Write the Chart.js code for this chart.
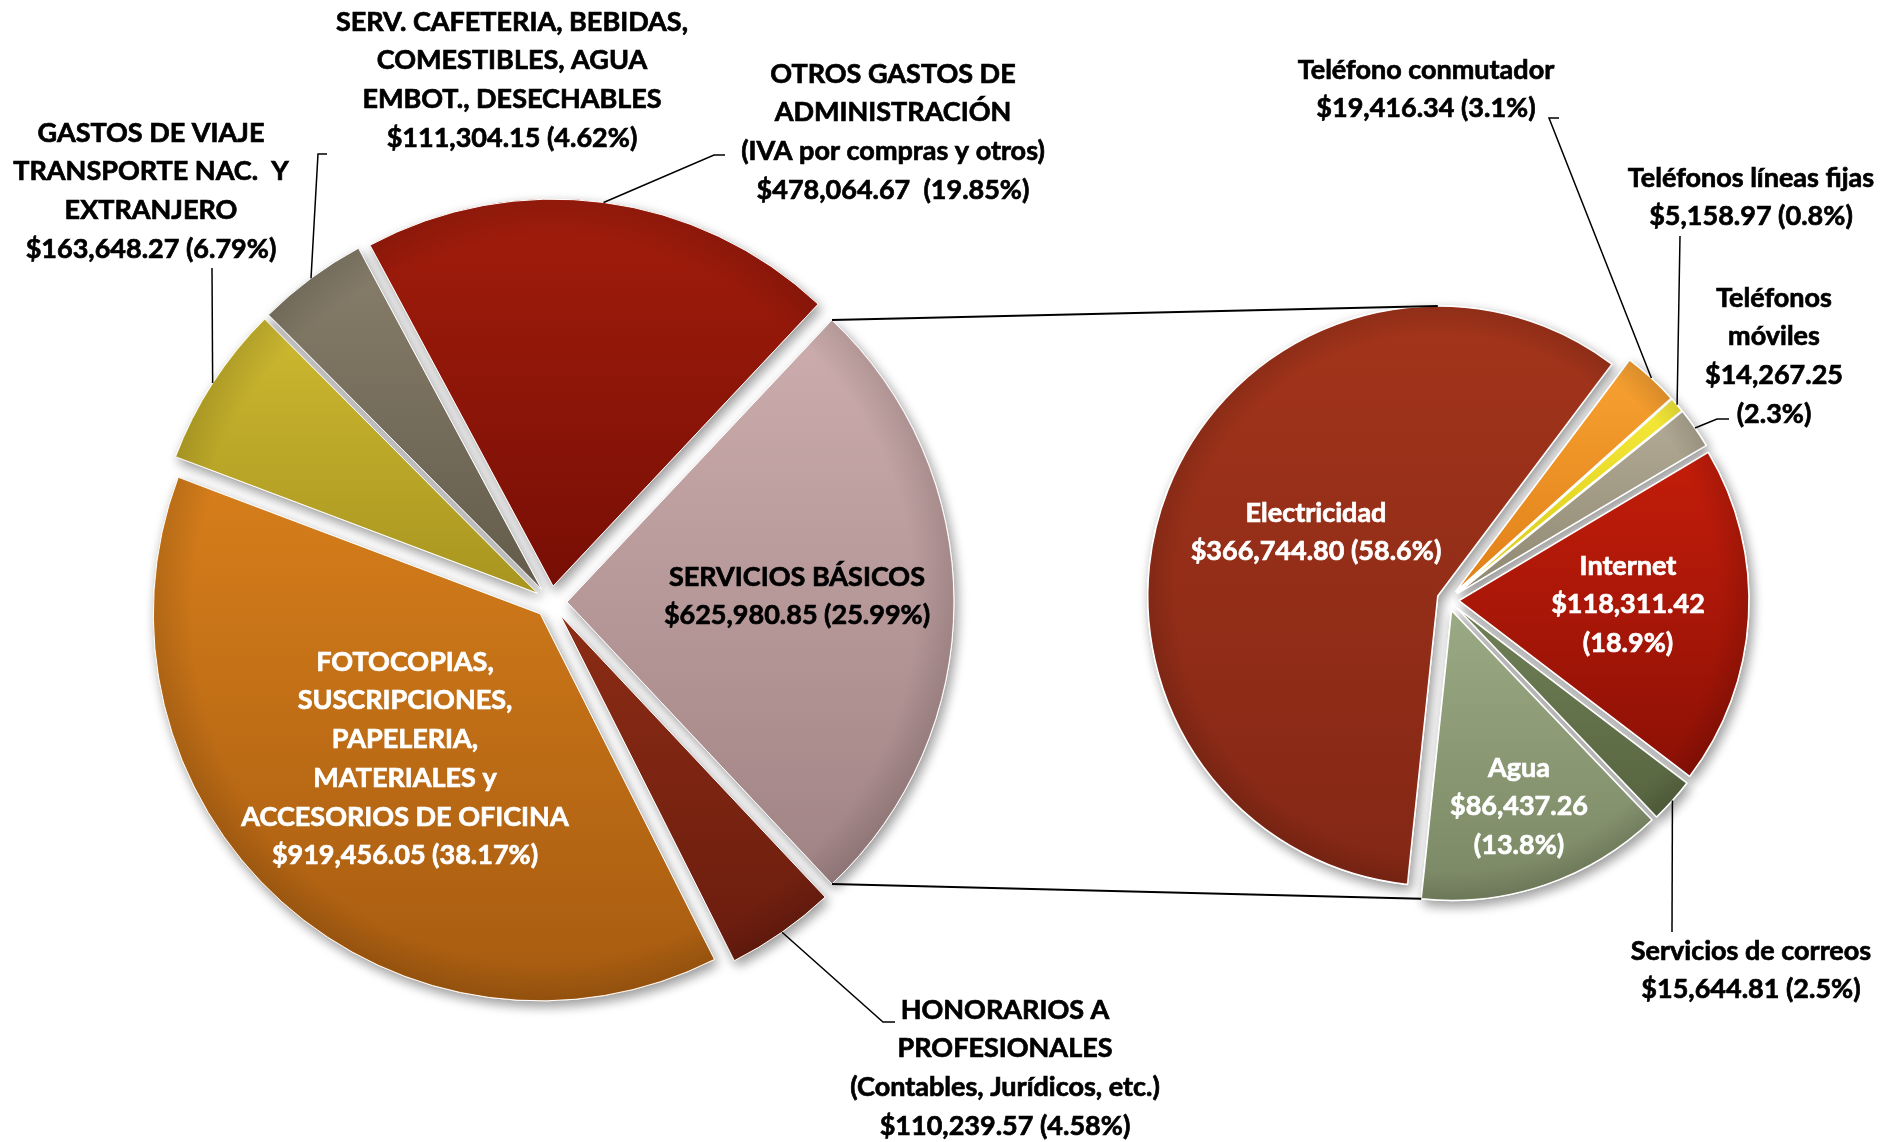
<!DOCTYPE html>
<html>
<head>
<meta charset="utf-8">
<script src="https://cdn.jsdelivr.net/npm/chart.js@4.4.1/dist/chart.umd.min.js"></script>
<style>
  body { margin: 0; background: #fff; }
  #wrap { position: relative; width: 1897px; height: 1142px; }
  #wrap canvas { position: absolute; left: 0; top: 0; }
</style>
</head>
<body>
<div id="wrap">
  <canvas id="gastos" width="1897" height="1142"></canvas>
  <canvas id="servicios" width="1897" height="1142"></canvas>
</div>
<script>
// Gastos de administracion (main pie)
var gastosLabels = [
    ['SERVICIOS BÁSICOS'],
    ['HONORARIOS A', 'PROFESIONALES', '(Contables, Jurídicos, etc.)'],
    ['FOTOCOPIAS,', 'SUSCRIPCIONES,', 'PAPELERIA,', 'MATERIALES y', 'ACCESORIOS DE OFICINA'],
    ['GASTOS DE VIAJE', 'TRANSPORTE NAC.  Y', 'EXTRANJERO'],
    ['SERV. CAFETERIA, BEBIDAS,', 'COMESTIBLES, AGUA', 'EMBOT., DESECHABLES'],
    ['OTROS GASTOS DE', 'ADMINISTRACIÓN', '(IVA por compras y otros)']
];
var gastosValues = [625980.85, 110239.57, 919456.05, 163648.27, 111304.15, 478064.67];

// Desglose de servicios basicos (second pie)
var serviciosLabels = [
    ['Electricidad'],
    ['Teléfono conmutador'],
    ['Teléfonos líneas fijas'],
    ['Teléfonos', 'móviles'],
    ['Internet'],
    ['Servicios de correos'],
    ['Agua']
];
var serviciosValues = [366744.80, 19416.34, 5158.97, 14267.25, 118311.42, 15644.81, 86437.26];

// colours: [top, bottom] of each slice gradient
var gastosColors = [
    ['#CDADAD', '#A08384'], ['#8C2C15', '#6A1C0E'], ['#D67E1B', '#A65B10'],
    ['#CEB930', '#A8951F'], ['#877E6B', '#645C4B'], ['#A21D0C', '#780E05']
];
var serviciosColors = [
    ['#A3341B', '#832715'], ['#F8A232', '#E08018'], ['#F6EA3A', '#D8C816'],
    ['#B3AB96', '#8E8772'], ['#C41D0A', '#8C1005'], ['#708057', '#56643F'],
    ['#9AAA84', '#7A8764']
];

// label placement (page px), first line centre
var gastosLabelPos = [
    {x: 797, y: 577, color: '#000'},
    {x: 1005, y: 1010, color: '#000', leader: [[883, 1022], [895, 1022]]},
    {x: 405, y: 662, color: '#fff'},
    {x: 151, y: 133, color: '#000', leader: [[212, 268]]},
    {x: 512, y: 22, color: '#000', leader: [[318, 154], [327, 154]]},
    {x: 893, y: 74, color: '#000', sep: '  ', leader: [[714, 155], [725, 155]]}
];
var serviciosLabelPos = [
    {x: 1316, y: 513, color: '#fff'},
    {x: 1426, y: 70, color: '#000', leader: [[1549, 118], [1559, 118]]},
    {x: 1751, y: 178, color: '#000', leader: [[1680, 236]]},
    {x: 1774, y: 298, color: '#000', split: true, leader: [[1717, 419], [1729, 419]]},
    {x: 1628, y: 566, color: '#fff', split: true},
    {x: 1751, y: 951, color: '#000', leader: [[1672, 932]]},
    {x: 1519, y: 768, color: '#fff', split: true}
];

var FONT = 'bold 27px Lato, "Open Sans", sans-serif';
var LINE_H = 38.7;

function money(v) {
    return '$' + v.toLocaleString('en-US', {minimumFractionDigits: 2, maximumFractionDigits: 2});
}

function sum(arr) {
    return arr.reduce(function(a, b) { return a + b; }, 0);
}

function arcBox(arc) {
    var r = arc.outerRadius, s = arc.startAngle, e = arc.endAngle;
    var ys = [arc.y, arc.y + r * Math.sin(s), arc.y + r * Math.sin(e)];
    for (var k = Math.ceil(s / (Math.PI / 2)); k * Math.PI / 2 <= e; k++) {
        ys.push(arc.y + r * Math.sin(k * Math.PI / 2));
    }
    return {top: Math.min.apply(null, ys), bottom: Math.max.apply(null, ys)};
}

// draws every slice pulled out from the centre, with gradient and shadow
var explodePlugin = {
    id: 'explode',
    beforeDatasetDraw: function(chart, args, opts) {
        var ctx = chart.ctx;
        var arcs = args.meta.data;
        for (var pass = 0; pass < 2; pass++) {
            arcs.forEach(function(arc, i) {
                var mid = (arc.startAngle + arc.endAngle) / 2;
                var d = opts.dist[i];
                ctx.save();
                ctx.translate(Math.cos(mid) * d, Math.sin(mid) * d);
                var box = arcBox(arc);
                var grad = ctx.createLinearGradient(0, box.top, 0, box.bottom);
                grad.addColorStop(0, opts.colors[i][0]);
                grad.addColorStop(1, opts.colors[i][1]);
                var saved = arc.options;
                arc.options = Object.assign({}, saved, {backgroundColor: grad});
                if (pass === 0) {
                    ctx.shadowColor = 'rgba(0,0,0,0.4)';
                    ctx.shadowBlur = 12;
                    ctx.shadowOffsetX = 3;
                    ctx.shadowOffsetY = 5;
                }
                arc.draw(ctx);
                arc.options = saved;
                if (pass === 1) {
                    // slight darker rim like a bevel
                    var rim = ctx.createRadialGradient(arc.x, arc.y, arc.outerRadius * 0.9, arc.x, arc.y, arc.outerRadius);
                    rim.addColorStop(0, 'rgba(0,0,0,0)');
                    rim.addColorStop(1, 'rgba(0,0,0,0.12)');
                    ctx.beginPath();
                    ctx.moveTo(arc.x, arc.y);
                    ctx.arc(arc.x, arc.y, arc.outerRadius - 1, arc.startAngle, arc.endAngle);
                    ctx.closePath();
                    ctx.fillStyle = rim;
                    ctx.fill();
                }
                ctx.restore();
            });
        }
        return false;
    }
};

// text labels with leader lines
var labelPlugin = {
    id: 'sliceLabels',
    afterDraw: function(chart, args, opts) {
        var ctx = chart.ctx;
        var arcs = chart.getDatasetMeta(0).data;
        var values = chart.data.datasets[0].data;
        var total = sum(values);
        ctx.save();
        arcs.forEach(function(arc, i) {
            var pos = opts.pos[i];
            if (pos.leader) {
                var mid = (arc.startAngle + arc.endAngle) / 2;
                var rr = arc.outerRadius + opts.dist[i];
                ctx.beginPath();
                ctx.moveTo(arc.x + Math.cos(mid) * rr, arc.y + Math.sin(mid) * rr);
                pos.leader.forEach(function(p) { ctx.lineTo(p[0], p[1]); });
                ctx.strokeStyle = '#000';
                ctx.lineWidth = 1.5;
                ctx.stroke();
            }
            var pct = '(' + (values[i] / total * 100).toFixed(opts.decimals) + '%)';
            var lines = chart.data.labels[i].slice();
            if (pos.split) {
                lines.push(money(values[i]), pct);
            } else {
                lines.push(money(values[i]) + (pos.sep || ' ') + pct);
            }
            ctx.font = FONT;
            ctx.fillStyle = pos.color;
            ctx.strokeStyle = pos.color;
            ctx.lineWidth = 0.7;
            ctx.textAlign = 'center';
            ctx.textBaseline = 'middle';
            lines.forEach(function(t, k) {
                ctx.fillText(t, pos.x, pos.y + k * LINE_H);
                ctx.strokeText(t, pos.x, pos.y + k * LINE_H);
            });
        });
        ctx.restore();
    }
};

// lines joining the split slice with the second pie
var connectorPlugin = {
    id: 'connector',
    afterDraw: function(chart, args, opts) {
        var main = Chart.getChart('gastos');
        if (!main) return;
        var src = main.getDatasetMeta(0).data[0];
        var arcs = chart.getDatasetMeta(0).data;
        var d0 = opts.mainDist, top = arcs[0], bot = arcs[arcs.length - 1];
        function shift(arc, d) {
            var mid = (arc.startAngle + arc.endAngle) / 2;
            return [arc.x + Math.cos(mid) * d, arc.y + Math.sin(mid) * d];
        }
        var c0 = shift(src, d0);
        var c1 = shift(top, opts.dist[0]);
        var c2 = shift(bot, opts.dist[arcs.length - 1]);
        var ctx = chart.ctx;
        ctx.save();
        ctx.strokeStyle = '#000';
        ctx.lineWidth = 2;
        ctx.beginPath();
        ctx.moveTo(c0[0] + Math.cos(src.startAngle) * src.outerRadius, c0[1] + Math.sin(src.startAngle) * src.outerRadius);
        ctx.lineTo(c1[0], c1[1] - top.outerRadius);
        ctx.moveTo(c0[0] + Math.cos(src.endAngle) * src.outerRadius, c0[1] + Math.sin(src.endAngle) * src.outerRadius);
        ctx.lineTo(c2[0] + Math.cos(bot.endAngle) * bot.outerRadius, c2[1] + Math.sin(bot.endAngle) * bot.outerRadius);
        ctx.stroke();
        ctx.restore();
    }
};

var gastosDist = [16, 16, 16, 16, 16, 16];
var serviciosDist = [11, 11, 11, 11, 11, 11, 11];

new Chart(document.getElementById('gastos'), {
    type: 'pie',
    data: {
        labels: gastosLabels,
        datasets: [{
            data: gastosValues,
            backgroundColor: gastosColors.map(function(c) { return c[0]; }),
            borderColor: '#fff',
            borderWidth: 1
        }]
    },
    options: {
        responsive: false,
        animation: false,
        events: [],
        radius: 387,
        rotation: 90 - gastosValues[0] / sum(gastosValues) * 180,
        layout: { padding: { left: 0, right: 795, top: 62, bottom: 0 } },
        plugins: {
            legend: { display: false },
            tooltip: { enabled: false },
            explode: { dist: gastosDist, colors: gastosColors },
            sliceLabels: { pos: gastosLabelPos, dist: gastosDist, decimals: 2 }
        }
    },
    plugins: [explodePlugin, labelPlugin]
});

new Chart(document.getElementById('servicios'), {
    type: 'pie',
    data: {
        labels: serviciosLabels,
        datasets: [{
            data: serviciosValues,
            backgroundColor: serviciosColors.map(function(c) { return c[0]; }),
            borderColor: '#fff',
            borderWidth: 1.5
        }]
    },
    options: {
        responsive: false,
        animation: false,
        events: [],
        radius: 290,
        rotation: 186,
        layout: { padding: { left: 999, right: 0, top: 58, bottom: 0 } },
        plugins: {
            legend: { display: false },
            tooltip: { enabled: false },
            explode: { dist: serviciosDist, colors: serviciosColors },
            sliceLabels: { pos: serviciosLabelPos, dist: serviciosDist, decimals: 1 },
            connector: { dist: serviciosDist, mainDist: gastosDist[0] }
        }
    },
    plugins: [explodePlugin, labelPlugin, connectorPlugin]
});
</script>
</body>
</html>
